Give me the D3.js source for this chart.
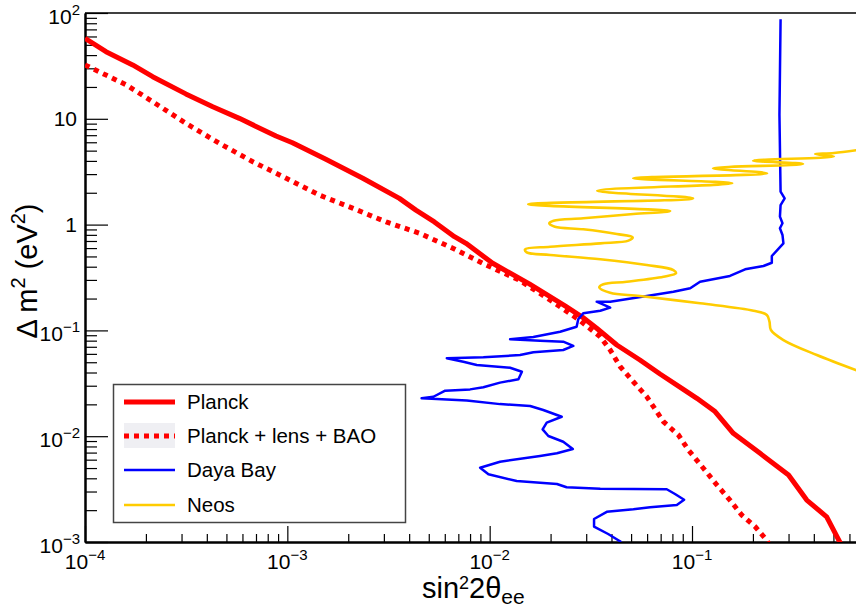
<!DOCTYPE html>
<html><head><meta charset="utf-8">
<script src="https://cdn.jsdelivr.net/npm/d3@7"></script>
<style>
body{margin:0;background:#fff}
svg{display:block}
text{font-family:"Liberation Sans",Arial,Helvetica,sans-serif;fill:#000}
</style>
</head><body>
<svg id="chart" width="856" height="609"></svg>
<script>
// ---------- data ----------
const xTickValues = [1e-4, 1e-3, 1e-2, 1e-1];
const xTickLabels = [["10","\u22124"],["10","\u22123"],["10","\u22122"],["10","\u22121"]];
const yTickValues = [1e-3, 1e-2, 1e-1, 1, 10, 100];
const yTickLabels = [["10","\u22123"],["10","\u22122"],["10","\u22121"],["1",""],["10",""],["10","2"]];
const seriesNames = ["Planck", "Planck + lens + BAO", "Daya Bay", "Neos"];

const planckX = [1e-4,1.27e-4,1.72e-4,2.16e-4,3.15e-4,4.28e-4,5.79e-4,8.79e-4,1.06e-3,1.55e-3,2.36e-3,3.58e-3,4.32e-3,5.33e-3,6.70e-3,7.64e-3,1.035e-2,1.57e-2,2.39e-2,2.88e-2,3.38e-2,4.25e-2,5.53e-2,6.95e-2,9.06e-2,0.1057,0.130,0.160,0.217,0.300,0.369,0.463,0.545];
const planckY = [57.7,43.1,32.3,25.0,17.2,13.0,10.1,6.88,5.94,4.14,2.74,1.77,1.37,1.06,0.769,0.665,0.431,0.275,0.1675,0.133,0.1047,0.0728,0.0525,0.0387,0.0277,0.0228,0.0171,0.01065,0.00689,0.0043,0.00249,0.00173,0.00095];

const lensX = [1e-4,1.27e-4,1.60e-4,2.16e-4,3.15e-4,4.61e-4,6.75e-4,9.87e-4,1.44e-3,2.10e-3,3.08e-3,4.50e-3,6.58e-3,9.60e-3,1.40e-2,2.05e-2,2.77e-2,3.52e-2,3.94e-2,4.42e-2,5.13e-2,5.98e-2,7.23e-2,8.57e-2,9.59e-2,0.1138,0.1327,0.154,0.176,0.205,0.234,0.240];
const lensY = [32.3,25.9,20.9,14.5,9.07,5.87,3.93,2.74,1.90,1.43,1.06,0.828,0.597,0.415,0.299,0.1867,0.1254,0.0871,0.0653,0.0454,0.0327,0.0236,0.0137,0.01026,0.00741,0.00498,0.00346,0.00249,0.0018,0.0014,0.00104,0.00095];

const dayaBayX = [0.274,0.2705,0.274,0.287,0.274,0.272,0.280,0.272,0.280,0.283,0.248,0.248,0.2255,0.183,0.154,0.1096,0.098,0.0809,0.0598,0.0394,0.0338,0.0394,0.0352,0.0290,0.0274,0.0269,0.0223,0.01644,0.01262,0.01774,0.0231,0.0259,0.0231,0.01644,0.01413,0.00931,0.00614,0.00741,0.00863,0.01262,0.01443,0.01387,0.01125,0.00931,0.0080,0.00603,0.00527,0.00461,0.00548,0.00771,0.01125,0.01585,0.0184,0.0227,0.01914,0.01827,0.0195,0.0231,0.02576,0.0215,0.01774,0.01125,0.00897,0.00986,0.0136,0.0215,0.0240,0.0352,0.0750,0.0824,0.0914,0.0841,0.0621,0.0513,0.0379,0.0328,0.0328,0.0385,0.0447];
const dayaBayY = [87.2,10.9,2.05,1.77,1.53,1.19,1.03,0.923,0.798,0.665,0.505,0.436,0.406,0.378,0.327,0.2887,0.250,0.232,0.2114,0.1867,0.1867,0.164,0.1535,0.145,0.1273,0.1084,0.0972,0.0867,0.0824,0.0800,0.0782,0.0713,0.0653,0.0621,0.0585,0.0557,0.0545,0.0506,0.0471,0.0444,0.0407,0.0345,0.0321,0.0290,0.0277,0.0269,0.0236,0.0228,0.0225,0.0217,0.0201,0.0193,0.0177,0.01528,0.01342,0.01161,0.01005,0.00887,0.00757,0.00689,0.0065,0.00574,0.00504,0.00437,0.00377,0.00353,0.00329,0.00319,0.00315,0.00284,0.00251,0.00224,0.00213,0.00204,0.00193,0.00165,0.0014,0.00119,0.001];

const neosX = [0.70,0.503,0.406,0.503,0.2004,0.354,0.127,0.235,0.0512,0.158,0.0340,0.1012,0.0155,0.078,0.0513,0.0290,0.0207,0.0197,0.0210,0.0290,0.0425,0.0509,0.0485,0.0352,0.0199,0.01496,0.01524,0.0199,0.0352,0.0598,0.0809,0.0834,0.0723,0.0476,0.0365,0.0348,0.0394,0.0553,0.1096,0.2014,0.2344,0.2415,0.2455,0.283,0.414,0.70];
const neosY = [5.15,4.75,4.65,4.40,4.02,3.74,3.41,3.05,2.74,2.46,2.09,1.77,1.556,1.345,1.259,1.148,1.089,1.028,0.955,0.903,0.815,0.759,0.705,0.665,0.618,0.584,0.547,0.516,0.470,0.415,0.372,0.347,0.322,0.2886,0.273,0.255,0.227,0.2114,0.1803,0.1535,0.140,0.1208,0.1009,0.0811,0.0585,0.0398];

// ---------- layout ----------
const L = 85, R = 863, T = 13, B = 542;
const svg = d3.select("#chart");
const x = d3.scaleLog().domain([1e-4, 0.7]).range([L, R]);
const y = d3.scaleLog().domain([1e-3, 100]).range([B, T]);

svg.append("defs").append("clipPath").attr("id","clip")
  .append("rect").attr("x", L).attr("y", T).attr("width", R - L).attr("height", B - T);

// minor tick values
const xMinor = [], yMinor = [];
for (const d of [1e-4,1e-3,1e-2,1e-1]) for (let m = 2; m <= 9; m++) if (m*d <= 0.7) xMinor.push(m*d);
for (const d of [1e-3,1e-2,1e-1,1,10]) for (let m = 2; m <= 9; m++) yMinor.push(m*d);

function styleAxis(g, w) {
  g.selectAll(".domain").attr("stroke","#000").attr("stroke-width", w);
  g.selectAll(".tick line").attr("stroke","#000").attr("stroke-width", 1.2);
}

// frame top
svg.append("line").attr("x1", L).attr("x2", R).attr("y1", T).attr("y2", T)
  .attr("stroke","#000").attr("stroke-width",1.3);

// x axis
const gx = svg.append("g").attr("transform", `translate(0,${B})`);
gx.call(d3.axisBottom(x).tickValues(xTickValues).tickSize(-16).tickSizeOuter(0).tickFormat(() => ""));
styleAxis(gx, 2);
const gxm = svg.append("g").attr("transform", `translate(0,${B})`);
gxm.call(d3.axisBottom(x).tickValues(xMinor).tickSize(-8).tickSizeOuter(0).tickFormat(() => ""));
styleAxis(gxm, 2);

// y axis
const gy = svg.append("g").attr("transform", `translate(${L},0)`);
gy.call(d3.axisLeft(y).tickValues(yTickValues).tickSize(-23).tickSizeOuter(0).tickFormat(() => ""));
styleAxis(gy, 2);
const gym = svg.append("g").attr("transform", `translate(${L},0)`);
gym.call(d3.axisLeft(y).tickValues(yMinor).tickSize(-12).tickSizeOuter(0).tickFormat(() => ""));
styleAxis(gym, 2);

// tick labels
xTickValues.forEach((v, i) => {
  const t = svg.append("text").attr("x", x(v)).attr("y", 569).attr("text-anchor","middle")
    .style("font-size","21px");
  t.append("tspan").text(xTickLabels[i][0]);
  t.append("tspan").attr("dy",-9).style("font-size","15px").text(xTickLabels[i][1]);
});
yTickValues.forEach((v, i) => {
  const lab = yTickLabels[i];
  const t = svg.append("text").attr("x", lab[1] ? 80 : 77)
    .attr("y", y(v) + (lab[1] ? 10.5 : 7.5)).attr("text-anchor","end").style("font-size","21px");
  t.append("tspan").text(lab[0]);
  if (lab[1]) t.append("tspan").attr("dy",-9).style("font-size","15px").text(lab[1]);
});

// axis titles
const xt = svg.append("text").attr("x", 422).attr("y", 598).style("font-size","29px");
xt.append("tspan").text("sin");
xt.append("tspan").attr("dy",-9).style("font-size","18px").text("2");
xt.append("tspan").attr("dy",9).text("2\u03B8");
xt.append("tspan").attr("dy",6).style("font-size","21px").text("ee");

const yt = svg.append("text").attr("transform","translate(37,271) rotate(-90)")
  .attr("text-anchor","middle").style("font-size","29px");
yt.append("tspan").text("\u0394 m");
yt.append("tspan").attr("dy",-12).style("font-size","20px").text("2");
yt.append("tspan").attr("dy",12).text(" (eV");
yt.append("tspan").attr("dy",-12).style("font-size","20px").text("2");
yt.append("tspan").attr("dy",12).text(")");

// curves
const plot = svg.append("g").attr("clip-path","url(#clip)");
const lin = d3.line().x(d => x(d[0])).y(d => y(d[1]));
const smooth = d3.line().x(d => x(d[0])).y(d => y(d[1])).curve(d3.curveCatmullRom.alpha(0.5));
const zip = (a, b) => a.map((v, i) => [v, b[i]]);

plot.append("path").attr("d", lin(zip(planckX, planckY)))
  .attr("fill","none").attr("stroke","#ff0000").attr("stroke-width",5).attr("stroke-linejoin","round");
plot.append("path").attr("d", lin(zip(lensX, lensY)))
  .attr("fill","none").attr("stroke","#ff0000").attr("stroke-width",5).attr("stroke-dasharray","5,5");
plot.append("path").attr("d", lin(zip(dayaBayX, dayaBayY)))
  .attr("fill","none").attr("stroke","#0000ff").attr("stroke-width",2.5).attr("stroke-linejoin","round");
plot.append("path").attr("d", smooth(zip(neosX, neosY)))
  .attr("fill","none").attr("stroke","#ffcc00").attr("stroke-width",2.6).attr("stroke-linejoin","round");

// legend
const lg = svg.append("g");
lg.append("rect").attr("x",113.5).attr("y",384.5).attr("width",292).attr("height",138)
  .attr("fill","#fff").attr("stroke","#444").attr("stroke-width",1.5);
const rows = [402, 436, 470, 505];
const styles = [
  {c:"#ff0000", w:5, dash:null},
  {c:"#ff0000", w:5, dash:"5,5"},
  {c:"#0000ff", w:2.5, dash:null},
  {c:"#ffcc00", w:2.6, dash:null}
];
lg.append("rect").attr("x",124).attr("y",423).attr("width",51).attr("height",25).attr("fill","#efeff3");
seriesNames.forEach((n, i) => {
  const ln = lg.append("line").attr("x1",124).attr("x2",175).attr("y1",rows[i]).attr("y2",rows[i])
    .attr("stroke",styles[i].c).attr("stroke-width",styles[i].w);
  if (styles[i].dash) ln.attr("stroke-dasharray", styles[i].dash);
  lg.append("text").attr("x",187).attr("y",rows[i]+7).style("font-size","20.5px").text(n);
});
</script>
</body></html>
